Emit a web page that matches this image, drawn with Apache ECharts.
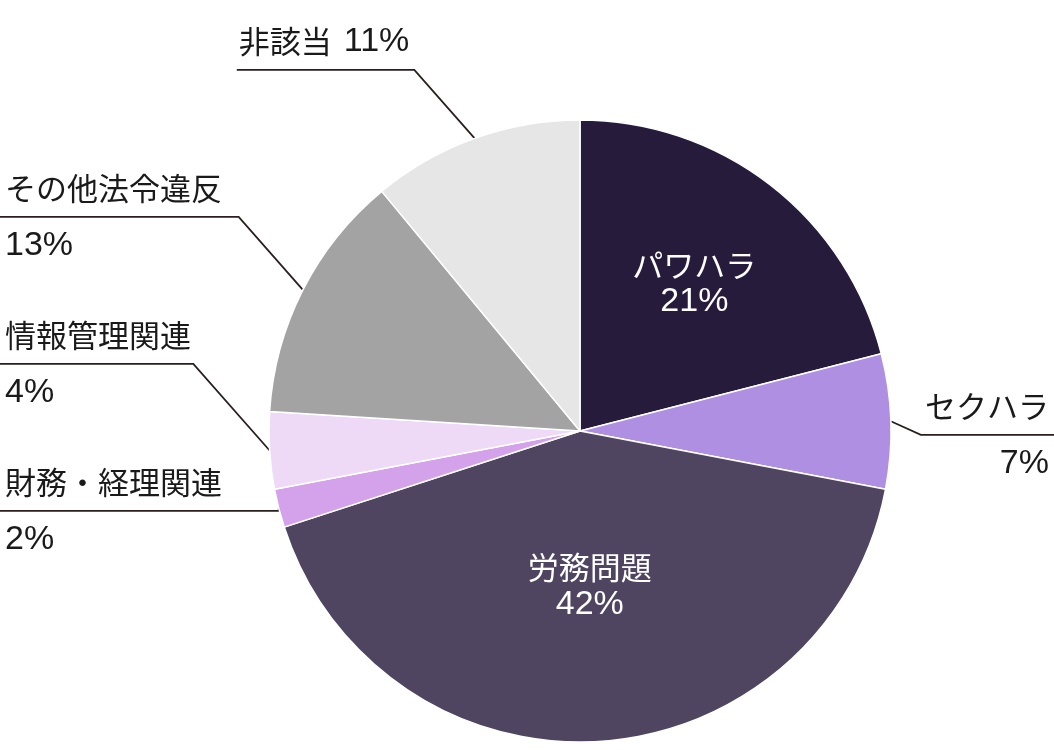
<!DOCTYPE html>
<html><head><meta charset="utf-8">
<script src="https://cdn.jsdelivr.net/npm/echarts@6/dist/echarts.min.js"></script>
<style>html,body{margin:0;padding:0;background:#fff}#c{width:1054px;height:750px}</style>
</head><body><div id="c"></div>
<script>
// ---- data ----
const categories = ['パワハラ','セクハラ','労務問題','財務・経理関連','情報管理関連','その他法令違反','非該当'];
const values = [21, 7, 42, 2, 4, 13, 11];
const colors = ['#271b3b','#af8fe2','#4f4560','#d3a2ea','#eed9f6','#a3a3a3','#e6e6e6'];
// labels drawn inside the slice (value = fraction of radius)
const insideLabels = {'パワハラ': 0.6, '労務問題': 0.5};
// labels written on one line next to the leader line
const inlineLabels = ['非該当'];

// ---- layout ----
const W = 1054, CX = 580, CY = 431, R = 311;
const CJK = '"Noto Sans CJK JP", "Noto Sans", sans-serif';
const LATIN = '"Liberation Sans", Arial, sans-serif';
const FS = 31, FS_PCT = 34;
const GAP = 147, LEN = 10, RIGHT_DROP = 14, SLOPE = 0.88, EDGE = 5;

const total = values.reduce((a, b) => a + b, 0);
let acc = 0;
const mids = values.map(v => { const m = (acc + v / 2) / total * 2 * Math.PI; acc += v; return m; });
const natY = i => CY - (R + LEN) * Math.cos(mids[i]);
const lineY = {};
const outside = categories.map((c, i) => i).filter(i => !(categories[i] in insideLabels));
const leftSide = outside.filter(i => Math.sin(mids[i]) < 0).sort((a, b) => natY(b) - natY(a));
let prev = Infinity;
leftSide.forEach(i => { const y = Math.min(natY(i), prev - GAP); lineY[i] = y; prev = y; });
outside.filter(i => Math.sin(mids[i]) >= 0).forEach(i => { lineY[i] = natY(i) + RIGHT_DROP; });

function richFor(color, lh) {
  return {
    n: { fontFamily: CJK, fontSize: FS, color: color, lineHeight: lh },
    p: { fontFamily: LATIN, fontSize: FS_PCT, color: color, lineHeight: lh },
    s: { fontFamily: LATIN, fontSize: FS_PCT, color: color, lineHeight: lh, width: 12 }
  };
}

const data = categories.map((name, i) => {
  const inside = name in insideLabels;
  const inline = inlineLabels.includes(name);
  return {
    name, value: values[i],
    itemStyle: { color: colors[i] },
    label: inside
      ? { position: 'inside', color: '#ffffff', lineHeight: 37, rich: richFor('#ffffff', 37),
          formatter: '{n|{b}}\n{p|{d}%}' }
      : { position: 'outside', color: '#1a1a1a', lineHeight: 57, rich: richFor('#1a1a1a', 57),
          formatter: inline ? '{n|{b}}{s| }{p|{d}%}\n{n| }' : '{n|{b}}\n{p|{d}%}' },
    labelLine: { show: !inside }
  };
});

function layoutLabel(p) {
  const i = p.dataIndex, name = categories[i];
  if (name in insideLabels) {
    const f = insideLabels[name];
    return { x: CX + f * R * Math.sin(mids[i]), y: CY - f * R * Math.cos(mids[i]), align: 'center', verticalAlign: 'middle' };
  }
  const p0 = p.labelLinePoints[0];
  const y = lineY[i];
  const w = p.labelRect.width;
  if (Math.sin(mids[i]) < 0) {
    const ex = p0[0] - SLOPE * Math.max(0, p0[1] - y);
    if (inlineLabels.includes(name)) {
      const tx = ex - 5;
      return { x: tx, y: y, align: 'right', verticalAlign: 'middle',
               labelLinePoints: [p0, [ex, y], [tx - w - 2, y]] };
    }
    return { x: EDGE, y: y, align: 'left', verticalAlign: 'middle',
             labelLinePoints: [p0, [ex, y], [0, y]] };
  }
  const ex = p0[0] + 30;
  return { x: W - EDGE, y: y, align: 'right', verticalAlign: 'middle',
           labelLinePoints: [p0, [ex, y], [W, y]] };
}

const chart = echarts.init(document.getElementById('c'), null, { renderer: 'canvas' });
chart.setOption({
  animation: false,
  backgroundColor: '#ffffff',
  series: [{
    type: 'pie',
    center: [CX, CY],
    radius: R,
    startAngle: 90,
    clockwise: true,
    avoidLabelOverlap: false,
    silent: true,
    itemStyle: { borderColor: '#ffffff', borderWidth: 1.5 },
    label: { fontFamily: CJK, fontSize: FS, overflow: 'none' },
    labelLine: { length: LEN, length2: 10, lineStyle: { color: '#2a1f1f', width: 1.8 } },
    labelLayout: layoutLabel,
    data: data
  }]
});
</script>
</body></html>
